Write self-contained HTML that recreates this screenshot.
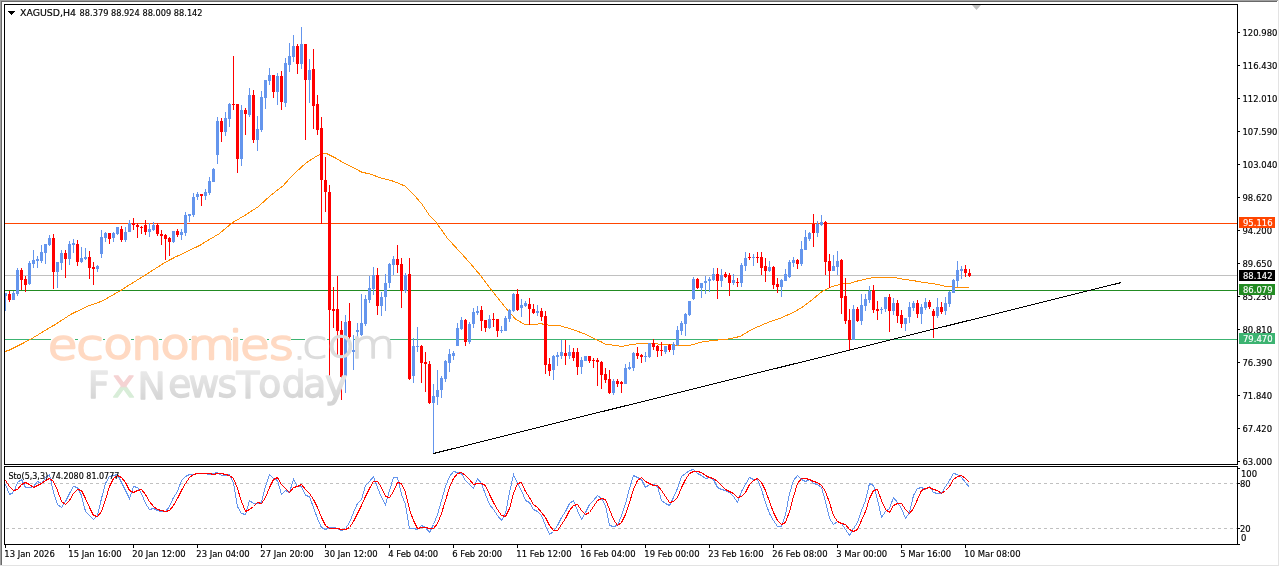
<!DOCTYPE html>
<html><head><meta charset="utf-8"><title>XAGUSD,H4</title>
<style>html,body{margin:0;padding:0;background:#fff;width:1280px;height:567px;overflow:hidden}</style>
</head><body>
<svg width="1280" height="567" viewBox="0 0 1280 567" style="position:absolute;left:0;top:0">
<g shape-rendering="crispEdges">
<rect x="0" y="0" width="1278" height="1" fill="#a0a0a0"/>
<rect x="0" y="0" width="1" height="565" fill="#a0a0a0"/>
<rect x="1" y="1" width="1276" height="1" fill="#696969"/>
<rect x="1" y="1" width="1" height="564" fill="#696969"/>
<rect x="1278" y="0" width="1" height="566" fill="#e3e3e3"/>
<rect x="0" y="565" width="1279" height="1" fill="#e3e3e3"/>
<rect x="4.5" y="4.5" width="1233" height="460" fill="none" stroke="#000" stroke-width="1"/>
<rect x="4.5" y="466.5" width="1233" height="78" fill="none" stroke="#000" stroke-width="1"/>
</g>
<defs><clipPath id="cm"><rect x="5" y="5" width="1232" height="459"/></clipPath><clipPath id="cs"><rect x="5" y="467" width="1232" height="77"/></clipPath></defs>
<g clip-path="url(#cm)" shape-rendering="crispEdges">
<rect x="5" y="223" width="1232" height="1" fill="#FF4500"/>
<rect x="5" y="275" width="1232" height="1" fill="#C0C0C0"/>
<rect x="5" y="290" width="1232" height="1" fill="#228B22"/>
<rect x="5" y="339" width="46" height="1" fill="#3CB371"/>
<rect x="75" y="339" width="3" height="1" fill="#3CB371"/>
<rect x="103" y="339" width="2" height="1" fill="#3CB371"/>
<rect x="131" y="339" width="3" height="1" fill="#3CB371"/>
<rect x="159" y="339" width="3" height="1" fill="#3CB371"/>
<rect x="189" y="339" width="2" height="1" fill="#3CB371"/>
<rect x="231" y="339" width="1" height="1" fill="#3CB371"/>
<rect x="240" y="339" width="3" height="1" fill="#3CB371"/>
<rect x="267" y="339" width="2" height="1" fill="#3CB371"/>
<rect x="291" y="339" width="14" height="1" fill="#3CB371"/>
<rect x="327" y="339" width="3" height="1" fill="#3CB371"/>
<rect x="353" y="339" width="2" height="1" fill="#3CB371"/>
<rect x="390" y="339" width="847" height="1" fill="#3CB371"/>
<polyline points="5.0,351.5 9.5,350.0 29.0,340.2 31.7,338.6 39.7,333.8 45.0,330.4 55.6,324.3 71.4,314.0 88.9,305.7 101.6,301.3 120.6,290.6 130.0,284.5 145.0,275.3 160.0,265.6 166.0,261.9 175.0,257.2 187.0,251.5 200.0,245.3 205.0,242.1 218.8,234.0 232.6,222.6 246.3,214.5 257.8,207.0 271.6,194.6 283.0,185.9 292.2,175.5 306.0,163.0 317.4,155.6 323.0,153.2 326.0,153.2 335.0,157.7 342.5,162.2 351.5,166.7 362.0,172.3 369.5,173.8 380.0,177.7 390.5,180.3 396.5,182.5 405.5,186.3 413.0,193.7 422.0,204.2 429.5,215.5 435.8,221.9 447.5,238.4 459.1,251.0 468.8,261.7 480.4,275.3 492.0,290.8 499.8,300.5 507.6,310.2 515.4,318.9 525.0,324.8 535.7,324.8 540.0,323.5 547.5,325.0 559.4,325.3 565.0,327.3 571.3,329.0 577.5,331.3 583.8,333.5 590.0,336.5 595.0,339.0 601.3,341.9 605.6,344.4 615.0,345.3 621.3,346.5 626.3,345.6 632.5,344.4 640.0,343.5 652.5,343.5 662.5,344.4 677.5,345.3 690.0,345.3 695.0,344.0 700.0,342.3 710.0,340.8 730.0,338.8 740.0,336.4 753.2,328.8 767.8,322.5 781.0,317.9 792.9,312.6 802.2,307.3 811.4,300.4 822.0,291.5 831.3,286.8 840.5,284.2 850.0,283.2 855.9,281.4 863.7,279.5 867.6,278.5 875.4,277.4 894.9,277.4 898.8,278.5 904.7,279.5 912.5,280.4 918.4,281.6 924.2,282.6 932.0,283.4 937.9,284.5 945.7,286.5 957.4,287.5 968.7,287.5" fill="none" stroke="#FF8C00" stroke-width="1"/>
<path d="M5,293h1v18h-1z M4,293h3v3h-3z M13,291h1v9h-1z M12,293h3v7h-3z M17,268h1v28h-1z M16,270h3v24h-3z M29,261h1v24h-1z M28,263h3v21h-3z M33,250h1v18h-1z M32,260h3v4h-3z M37,256h1v12h-1z M36,259h3v2h-3z M41,245h1v18h-1z M40,252h3v9h-3z M45,244h1v20h-1z M44,244h3v9h-3z M49,235h1v11h-1z M48,238h3v7h-3z M57,262h1v26h-1z M56,262h3v10h-3z M61,250h1v20h-1z M60,253h3v10h-3z M69,241h1v24h-1z M68,244h3v15h-3z M73,239h1v14h-1z M72,243h3v2h-3z M81,247h1v16h-1z M80,258h3v4h-3z M85,248h1v12h-1z M84,257h3v2h-3z M97,265h1v7h-1z M96,266h3v3h-3z M101,230h1v28h-1z M100,237h3v17h-3z M105,232h1v10h-1z M104,233h3v5h-3z M113,232h1v10h-1z M112,233h3v5h-3z M117,227h1v8h-1z M116,227h3v7h-3z M125,227h1v15h-1z M124,232h3v8h-3z M129,220h1v12h-1z M128,223h3v9h-3z M149,223h1v14h-1z M148,229h3v3h-3z M153,222h1v9h-1z M152,225h3v5h-3z M173,231h1v12h-1z M172,231h3v11h-3z M181,229h1v11h-1z M180,232h3v3h-3z M185,212h1v24h-1z M184,215h3v18h-3z M189,214h1v8h-1z M188,214h3v2h-3z M193,193h1v24h-1z M192,197h3v18h-3z M197,192h1v8h-1z M196,194h3v3h-3z M205,189h1v11h-1z M204,192h3v4h-3z M209,177h1v18h-1z M208,181h3v12h-3z M213,168h1v14h-1z M212,169h3v13h-3z M217,117h1v47h-1z M216,121h3v34h-3z M225,112h1v24h-1z M224,118h3v14h-3z M229,103h1v24h-1z M228,104h3v15h-3z M241,105h1v61h-1z M240,110h3v49h-3z M249,88h1v29h-1z M248,95h3v20h-3z M257,116h1v35h-1z M256,129h3v11h-3z M261,91h1v41h-1z M260,97h3v33h-3z M265,80h1v29h-1z M264,80h3v18h-3z M269,68h1v17h-1z M268,75h3v6h-3z M277,73h1v32h-1z M276,76h3v16h-3z M285,58h1v49h-1z M284,63h3v40h-3z M289,43h1v29h-1z M288,56h3v9h-3z M293,35h1v27h-1z M292,46h3v11h-3z M301,27h1v42h-1z M300,44h3v20h-3z M309,59h1v44h-1z M308,70h3v10h-3z M345,315h1v78h-1z M344,322h3v54h-3z M353,335h1v35h-1z M352,350h3v2h-3z M357,323h1v15h-1z M356,330h3v2h-3z M361,294h1v42h-1z M360,323h3v12h-3z M365,295h1v31h-1z M364,299h3v25h-3z M369,276h1v27h-1z M368,288h3v12h-3z M373,267h1v28h-1z M372,275h3v14h-3z M381,292h1v24h-1z M380,297h3v9h-3z M385,274h1v37h-1z M384,283h3v14h-3z M389,263h1v25h-1z M388,264h3v19h-3z M393,256h1v19h-1z M392,259h3v6h-3z M405,273h1v20h-1z M404,275h3v16h-3z M413,338h1v45h-1z M412,346h3v30h-3z M417,327h1v25h-1z M416,346h3v1h-3z M433,384h1v69h-1z M432,396h3v7h-3z M437,370h1v35h-1z M436,390h3v7h-3z M441,376h1v22h-1z M440,378h3v12h-3z M445,360h1v22h-1z M444,361h3v18h-3z M449,349h1v23h-1z M448,354h3v9h-3z M453,351h1v9h-1z M452,353h3v3h-3z M457,323h1v23h-1z M456,328h3v18h-3z M461,317h1v13h-1z M460,320h3v9h-3z M469,322h1v22h-1z M468,324h3v18h-3z M473,308h1v20h-1z M472,312h3v12h-3z M477,306h1v9h-1z M476,311h3v2h-3z M489,315h1v14h-1z M488,319h3v9h-3z M501,326h1v7h-1z M500,330h3v1h-3z M505,316h1v15h-1z M504,318h3v13h-3z M509,309h1v13h-1z M508,310h3v9h-3z M513,293h1v19h-1z M512,294h3v17h-3z M521,299h1v18h-1z M520,305h3v3h-3z M525,301h1v6h-1z M524,303h3v3h-3z M537,305h1v11h-1z M536,311h3v2h-3z M553,355h1v25h-1z M552,356h3v14h-3z M557,352h1v14h-1z M556,355h3v2h-3z M561,340h1v19h-1z M560,352h3v4h-3z M569,345h1v14h-1z M568,352h3v4h-3z M581,357h1v17h-1z M580,360h3v7h-3z M585,356h1v5h-1z M584,356h3v5h-3z M613,379h1v16h-1z M612,381h3v12h-3z M625,364h1v20h-1z M624,368h3v16h-3z M629,362h1v8h-1z M628,367h3v2h-3z M633,352h1v19h-1z M632,353h3v15h-3z M645,352h1v10h-1z M644,356h3v1h-3z M649,343h1v15h-1z M648,343h3v14h-3z M665,346h1v8h-1z M664,346h3v6h-3z M673,342h1v13h-1z M672,344h3v6h-3z M677,326h1v20h-1z M676,330h3v15h-3z M681,321h1v14h-1z M680,323h3v8h-3z M685,313h1v23h-1z M684,314h3v10h-3z M689,301h1v15h-1z M688,301h3v14h-3z M693,277h1v23h-1z M692,279h3v20h-3z M701,283h1v15h-1z M700,283h3v5h-3z M705,276h1v18h-1z M704,281h3v2h-3z M709,277h1v15h-1z M708,279h3v2h-3z M713,268h1v13h-1z M712,274h3v6h-3z M721,269h1v18h-1z M720,275h3v6h-3z M733,274h1v11h-1z M732,280h3v3h-3z M741,263h1v24h-1z M740,265h3v18h-3z M745,252h1v19h-1z M744,258h3v8h-3z M753,254h1v12h-1z M752,257h3v1h-3z M769,261h1v11h-1z M768,267h3v4h-3z M781,279h1v18h-1z M780,280h3v7h-3z M785,269h1v12h-1z M784,274h3v7h-3z M789,260h1v18h-1z M788,262h3v15h-3z M793,257h1v10h-1z M792,260h3v3h-3z M801,241h1v25h-1z M800,249h3v15h-3z M805,230h1v20h-1z M804,237h3v13h-3z M809,232h1v9h-1z M808,233h3v6h-3z M817,221h1v16h-1z M816,224h3v9h-3z M821,215h1v11h-1z M820,222h3v3h-3z M833,255h1v16h-1z M832,266h3v5h-3z M837,251h1v24h-1z M836,261h3v6h-3z M853,305h1v35h-1z M852,309h3v31h-3z M861,294h1v31h-1z M860,305h3v16h-3z M865,294h1v17h-1z M864,299h3v7h-3z M869,286h1v17h-1z M868,291h3v9h-3z M881,307h1v7h-1z M880,309h3v1h-3z M885,297h1v15h-1z M884,297h3v12h-3z M893,298h1v17h-1z M892,303h3v8h-3z M905,318h1v13h-1z M904,318h3v6h-3z M909,302h1v21h-1z M908,307h3v10h-3z M913,301h1v10h-1z M912,303h3v5h-3z M921,304h1v20h-1z M920,307h3v7h-3z M925,298h1v12h-1z M924,302h3v6h-3z M937,298h1v20h-1z M936,307h3v9h-3z M945,297h1v18h-1z M944,303h3v8h-3z M949,291h1v16h-1z M948,292h3v12h-3z M953,279h1v14h-1z M952,280h3v13h-3z M957,261h1v26h-1z M956,270h3v11h-3z M961,266h1v13h-1z M960,269h3v2h-3z" fill="#6495ED"/>
<path d="M9,291h1v11h-1z M8,294h3v6h-3z M21,268h1v22h-1z M20,270h3v10h-3z M25,276h1v16h-1z M24,279h3v6h-3z M53,234h1v55h-1z M52,238h3v34h-3z M65,250h1v28h-1z M64,253h3v6h-3z M77,240h1v26h-1z M76,244h3v18h-3z M89,251h1v28h-1z M88,257h3v11h-3z M93,262h1v23h-1z M92,267h3v2h-3z M109,233h1v11h-1z M108,233h3v6h-3z M121,226h1v16h-1z M120,229h3v11h-3z M133,218h1v12h-1z M132,223h3v2h-3z M137,223h1v15h-1z M136,225h3v2h-3z M141,226h1v8h-1z M140,227h3v1h-3z M145,220h1v15h-1z M144,225h3v7h-3z M157,223h1v13h-1z M156,225h3v9h-3z M161,230h1v15h-1z M160,234h3v2h-3z M165,234h1v26h-1z M164,235h3v4h-3z M169,237h1v19h-1z M168,238h3v4h-3z M177,229h1v8h-1z M176,231h3v4h-3z M201,194h1v12h-1z M200,194h3v2h-3z M221,118h1v24h-1z M220,121h3v11h-3z M233,56h1v54h-1z M232,104h3v1h-3z M237,104h1v69h-1z M236,104h3v55h-3z M245,108h1v27h-1z M244,110h3v4h-3z M253,90h1v53h-1z M252,95h3v45h-3z M273,75h1v23h-1z M272,75h3v17h-3z M281,71h1v39h-1z M280,76h3v26h-3z M297,44h1v30h-1z M296,46h3v18h-3z M305,44h1v96h-1z M304,44h3v36h-3z M313,49h1v80h-1z M312,69h3v37h-3z M317,95h1v40h-1z M316,104h3v26h-3z M321,117h1v107h-1z M320,128h3v52h-3z M325,157h1v55h-1z M324,180h3v12h-3z M329,185h1v191h-1z M328,192h3v118h-3z M333,287h1v41h-1z M332,309h3v2h-3z M337,276h1v79h-1z M336,309h3v22h-3z M341,321h1v79h-1z M340,330h3v47h-3z M349,303h1v46h-1z M348,321h3v16h-3z M377,268h1v47h-1z M376,275h3v31h-3z M397,245h1v28h-1z M396,259h3v6h-3z M401,258h1v50h-1z M400,264h3v27h-3z M409,258h1v122h-1z M408,274h3v105h-3z M421,345h1v38h-1z M420,346h3v17h-3z M425,352h1v40h-1z M424,362h3v2h-3z M429,361h1v43h-1z M428,364h3v39h-3z M465,319h1v27h-1z M464,320h3v22h-3z M481,306h1v25h-1z M480,310h3v11h-3z M485,320h1v12h-1z M484,320h3v8h-3z M493,313h1v14h-1z M492,319h3v1h-3z M497,319h1v18h-1z M496,319h3v12h-3z M517,289h1v22h-1z M516,294h3v16h-3z M529,298h1v27h-1z M528,304h3v5h-3z M533,304h1v10h-1z M532,309h3v4h-3z M541,308h1v13h-1z M540,311h3v6h-3z M545,311h1v63h-1z M544,316h3v49h-3z M549,358h1v18h-1z M548,364h3v7h-3z M565,340h1v25h-1z M564,353h3v3h-3z M573,348h1v13h-1z M572,352h3v6h-3z M577,348h1v27h-1z M576,352h3v15h-3z M589,356h1v7h-1z M588,356h3v5h-3z M593,358h1v10h-1z M592,360h3v1h-3z M597,358h1v28h-1z M596,360h3v2h-3z M601,361h1v28h-1z M600,362h3v13h-3z M605,368h1v15h-1z M604,374h3v6h-3z M609,370h1v24h-1z M608,379h3v14h-3z M617,379h1v8h-1z M616,381h3v3h-3z M621,381h1v12h-1z M620,382h3v2h-3z M637,347h1v12h-1z M636,353h3v3h-3z M641,354h1v9h-1z M640,355h3v2h-3z M653,339h1v11h-1z M652,343h3v4h-3z M657,345h1v12h-1z M656,346h3v5h-3z M661,342h1v14h-1z M660,350h3v1h-3z M669,344h1v8h-1z M668,345h3v5h-3z M697,278h1v11h-1z M696,279h3v9h-3z M717,268h1v31h-1z M716,274h3v7h-3z M725,272h1v6h-1z M724,274h3v3h-3z M729,273h1v23h-1z M728,275h3v8h-3z M737,278h1v9h-1z M736,282h3v1h-3z M749,253h1v7h-1z M748,257h3v1h-3z M757,252h1v11h-1z M756,257h3v1h-3z M761,252h1v23h-1z M760,257h3v11h-3z M765,258h1v24h-1z M764,266h3v5h-3z M773,266h1v23h-1z M772,267h3v18h-3z M777,278h1v15h-1z M776,284h3v3h-3z M797,259h1v10h-1z M796,260h3v4h-3z M813,214h1v33h-1z M812,224h3v9h-3z M825,221h1v54h-1z M824,222h3v40h-3z M829,254h1v34h-1z M828,261h3v10h-3z M841,259h1v55h-1z M840,260h3v38h-3z M845,278h1v46h-1z M844,296h3v25h-3z M849,309h1v41h-1z M848,320h3v20h-3z M857,307h1v15h-1z M856,309h3v12h-3z M873,285h1v28h-1z M872,290h3v20h-3z M877,301h1v19h-1z M876,309h3v2h-3z M889,294h1v38h-1z M888,297h3v14h-3z M897,300h1v23h-1z M896,303h3v13h-3z M901,310h1v18h-1z M900,315h3v9h-3z M917,300h1v18h-1z M916,303h3v11h-3z M929,300h1v9h-1z M928,302h3v5h-3z M933,309h1v29h-1z M932,311h3v5h-3z M941,302h1v12h-1z M940,307h3v5h-3z M965,265h1v12h-1z M964,269h3v4h-3z M969,269h1v8h-1z M968,273h3v3h-3z" fill="#FF0000"/>
<line x1="433.5" y1="453.5" x2="1121.5" y2="282.5" stroke="#000" stroke-width="1"/>
</g>
<g>
<text transform="matrix(0.12123 0 0 0.10147 0 358.836)" font-family="DejaVu Sans, sans-serif" font-weight="200" font-size="400px" fill="#FFD9C2" stroke="#FFD9C2" stroke-width="25.15" stroke-linejoin="round" x="393.01 631.93 852.46 1082.76 1322.62 1548.52 1890.00 1980.03 2216.78" y="-0.86 -0.86 -3.99 2.26 -3.99 2.26 6.92 -0.86 -0.86">economies</text>
<text transform="matrix(0.11431 0 0 0.09517 0 357.879)" font-family="DejaVu Sans, sans-serif" font-weight="200" font-size="400px" fill="#DCDCDC" stroke="#DCDCDC" stroke-width="14.32" stroke-linejoin="round" x="2557.65 2643.25 2861.27 3068.91" y="8.52 -2.84 -5.96 0.29">.com</text>
<defs><linearGradient id="fxg" gradientUnits="userSpaceOnUse" x1="0" y1="97.8" x2="0" y2="445.6"><stop offset="0" stop-color="#EAEAEA"/><stop offset="1" stop-color="#D4D4D4"/></linearGradient><pattern id="fxp" patternUnits="userSpaceOnUse" x="850.9" y="-407.2" width="2978.1" height="543.4"><rect x="0" y="0" width="2978.1" height="543.4" fill="url(#fxg)"/><rect x="324.4" y="0" width="271.2" height="295.6" fill="#F5D3D3"/><rect x="324.4" y="295.6" width="271.2" height="247.8" fill="#D8EDD8"/></pattern></defs>
<text transform="matrix(0.09402 0 0 0.09202 0 397.466)" font-family="DejaVu Sans, sans-serif" font-weight="400" font-size="400px" fill="url(#fxp)" stroke="url(#fxp)" stroke-width="13.98" stroke-linejoin="round" x="933.27 1195.25 1463.47 1790.99 2006.16 2312.36 2516.36 2745.57 2996.51 3226.18 3456.45" y="9.77 -4.36 13.58 -2.73 -2.73 -2.73 9.77 -5.99 -7.21 -4.36 -3.01">FxNewsToday</text>
</g>
<path d="M8,11h7v1h-1v1h-1v1h-1v1h-1v-1h-1v-1h-1v-1h-1z" fill="#000" shape-rendering="crispEdges"/>
<text x="20" y="16" font-family="DejaVu Sans, Liberation Sans, sans-serif" font-stretch="condensed" stroke="currentColor" stroke-width="0.15" font-size="9.4px" fill="#000" color="#000" textLength="56" lengthAdjust="spacingAndGlyphs">XAGUSD,H4</text>
<text x="79.6" y="16" font-family="DejaVu Sans, Liberation Sans, sans-serif" font-stretch="condensed" stroke="currentColor" stroke-width="0.15" font-size="9.4px" fill="#000" color="#000" textLength="123" lengthAdjust="spacingAndGlyphs">88.379 88.924 88.009 88.142</text>
<path d="M972,5h9l-4.5,5z" fill="#C0C0C0"/>
<g shape-rendering="crispEdges">
<rect x="1238" y="32" width="2" height="1" fill="#000"/>
<rect x="1238" y="65" width="2" height="1" fill="#000"/>
<rect x="1238" y="98" width="2" height="1" fill="#000"/>
<rect x="1238" y="131" width="2" height="1" fill="#000"/>
<rect x="1238" y="164" width="2" height="1" fill="#000"/>
<rect x="1238" y="197" width="2" height="1" fill="#000"/>
<rect x="1238" y="230" width="2" height="1" fill="#000"/>
<rect x="1238" y="263" width="2" height="1" fill="#000"/>
<rect x="1238" y="296" width="2" height="1" fill="#000"/>
<rect x="1238" y="329" width="2" height="1" fill="#000"/>
<rect x="1238" y="362" width="2" height="1" fill="#000"/>
<rect x="1238" y="395" width="2" height="1" fill="#000"/>
<rect x="1238" y="428" width="2" height="1" fill="#000"/>
<rect x="1238" y="461" width="2" height="1" fill="#000"/>
</g>
<text x="1242.5" y="36" font-family="DejaVu Sans, Liberation Sans, sans-serif" font-stretch="condensed" stroke="currentColor" stroke-width="0.15" font-size="9.4px" fill="#000" color="#000">120.980</text>
<text x="1242.5" y="69" font-family="DejaVu Sans, Liberation Sans, sans-serif" font-stretch="condensed" stroke="currentColor" stroke-width="0.15" font-size="9.4px" fill="#000" color="#000">116.430</text>
<text x="1242.5" y="102" font-family="DejaVu Sans, Liberation Sans, sans-serif" font-stretch="condensed" stroke="currentColor" stroke-width="0.15" font-size="9.4px" fill="#000" color="#000">112.010</text>
<text x="1242.5" y="135" font-family="DejaVu Sans, Liberation Sans, sans-serif" font-stretch="condensed" stroke="currentColor" stroke-width="0.15" font-size="9.4px" fill="#000" color="#000">107.590</text>
<text x="1242.5" y="168" font-family="DejaVu Sans, Liberation Sans, sans-serif" font-stretch="condensed" stroke="currentColor" stroke-width="0.15" font-size="9.4px" fill="#000" color="#000">103.040</text>
<text x="1242.5" y="201" font-family="DejaVu Sans, Liberation Sans, sans-serif" font-stretch="condensed" stroke="currentColor" stroke-width="0.15" font-size="9.4px" fill="#000" color="#000">98.620</text>
<text x="1242.5" y="234" font-family="DejaVu Sans, Liberation Sans, sans-serif" font-stretch="condensed" stroke="currentColor" stroke-width="0.15" font-size="9.4px" fill="#000" color="#000">94.200</text>
<text x="1242.5" y="267" font-family="DejaVu Sans, Liberation Sans, sans-serif" font-stretch="condensed" stroke="currentColor" stroke-width="0.15" font-size="9.4px" fill="#000" color="#000">89.650</text>
<text x="1242.5" y="300" font-family="DejaVu Sans, Liberation Sans, sans-serif" font-stretch="condensed" stroke="currentColor" stroke-width="0.15" font-size="9.4px" fill="#000" color="#000">85.230</text>
<text x="1242.5" y="333" font-family="DejaVu Sans, Liberation Sans, sans-serif" font-stretch="condensed" stroke="currentColor" stroke-width="0.15" font-size="9.4px" fill="#000" color="#000">80.810</text>
<text x="1242.5" y="366" font-family="DejaVu Sans, Liberation Sans, sans-serif" font-stretch="condensed" stroke="currentColor" stroke-width="0.15" font-size="9.4px" fill="#000" color="#000">76.390</text>
<text x="1242.5" y="399" font-family="DejaVu Sans, Liberation Sans, sans-serif" font-stretch="condensed" stroke="currentColor" stroke-width="0.15" font-size="9.4px" fill="#000" color="#000">71.840</text>
<text x="1242.5" y="432" font-family="DejaVu Sans, Liberation Sans, sans-serif" font-stretch="condensed" stroke="currentColor" stroke-width="0.15" font-size="9.4px" fill="#000" color="#000">67.420</text>
<text x="1242.5" y="465" font-family="DejaVu Sans, Liberation Sans, sans-serif" font-stretch="condensed" stroke="currentColor" stroke-width="0.15" font-size="9.4px" fill="#000" color="#000">63.000</text>
<rect x="1239" y="217" width="36" height="11" fill="#FF4500" shape-rendering="crispEdges"/>
<text x="1243" y="226" font-family="DejaVu Sans, Liberation Sans, sans-serif" font-stretch="condensed" stroke="currentColor" stroke-width="0.15" font-size="9.4px" fill="#fff" color="#fff">95.116</text>
<rect x="1239" y="270" width="36" height="11" fill="#000000" shape-rendering="crispEdges"/>
<text x="1243" y="279" font-family="DejaVu Sans, Liberation Sans, sans-serif" font-stretch="condensed" stroke="currentColor" stroke-width="0.15" font-size="9.4px" fill="#fff" color="#fff">88.142</text>
<rect x="1239" y="284" width="36" height="11" fill="#228B22" shape-rendering="crispEdges"/>
<text x="1243" y="293" font-family="DejaVu Sans, Liberation Sans, sans-serif" font-stretch="condensed" stroke="currentColor" stroke-width="0.15" font-size="9.4px" fill="#fff" color="#fff">86.079</text>
<rect x="1239" y="333" width="36" height="11" fill="#3CB371" shape-rendering="crispEdges"/>
<text x="1243" y="342" font-family="DejaVu Sans, Liberation Sans, sans-serif" font-stretch="condensed" stroke="currentColor" stroke-width="0.15" font-size="9.4px" fill="#fff" color="#fff">79.470</text>
<g clip-path="url(#cs)">
<line x1="0" y1="483.5" x2="1237" y2="483.5" stroke="#C0C0C0" stroke-dasharray="3,3" shape-rendering="crispEdges"/>
<line x1="0" y1="528.5" x2="1237" y2="528.5" stroke="#C0C0C0" stroke-dasharray="3,3" shape-rendering="crispEdges"/>
<polyline points="5.5,484.5 9.5,494.5 13.5,492.5 17.5,482.5 21.5,479.5 25.5,487.5 29.5,487.5 33.5,486.5 37.5,481.5 41.5,483.5 45.5,477.5 49.5,474.5 53.5,492.5 57.5,504.5 61.5,507.5 65.5,501.5 69.5,493.5 73.5,486.5 77.5,487.5 81.5,495.5 85.5,511.5 89.5,515.5 93.5,519.5 97.5,515.5 101.5,498.5 105.5,483.5 109.5,476.5 113.5,475.5 117.5,474.5 121.5,482.5 125.5,490.5 129.5,498.5 133.5,486.5 137.5,487.5 141.5,493.5 145.5,503.5 149.5,509.5 153.5,508.5 157.5,510.5 161.5,511.5 165.5,511.5 169.5,506.5 173.5,497.5 177.5,491.5 181.5,480.5 185.5,476.5 189.5,474.5 193.5,474.5 197.5,473.5 201.5,473.5 205.5,473.5 209.5,474.5 213.5,473.5 217.5,472.5 221.5,475.5 225.5,475.5 229.5,474.5 233.5,483.5 237.5,506.5 241.5,513.5 245.5,514.5 249.5,500.5 253.5,503.5 257.5,503.5 261.5,502.5 265.5,486.5 269.5,474.5 273.5,478.5 277.5,480.5 281.5,494.5 285.5,490.5 289.5,492.5 293.5,479.5 297.5,486.5 301.5,486.5 305.5,495.5 309.5,496.5 313.5,507.5 317.5,518.5 321.5,527.5 325.5,529.5 329.5,527.5 333.5,527.5 337.5,528.5 341.5,530.5 345.5,528.5 349.5,522.5 353.5,512.5 357.5,503.5 361.5,499.5 365.5,485.5 369.5,481.5 373.5,476.5 377.5,487.5 381.5,497.5 385.5,504.5 389.5,490.5 393.5,477.5 397.5,477.5 401.5,494.5 405.5,504.5 409.5,528.5 413.5,528.5 417.5,529.5 421.5,525.5 425.5,527.5 429.5,532.5 433.5,524.5 437.5,514.5 441.5,500.5 445.5,486.5 449.5,476.5 453.5,471.5 457.5,472.5 461.5,473.5 465.5,480.5 469.5,484.5 473.5,488.5 477.5,478.5 481.5,483.5 485.5,494.5 489.5,504.5 493.5,509.5 497.5,515.5 501.5,520.5 505.5,513.5 509.5,492.5 513.5,474.5 517.5,483.5 521.5,490.5 525.5,500.5 529.5,502.5 533.5,509.5 537.5,511.5 541.5,515.5 545.5,525.5 549.5,534.5 553.5,531.5 557.5,525.5 561.5,517.5 565.5,511.5 569.5,503.5 573.5,500.5 577.5,510.5 581.5,519.5 585.5,512.5 589.5,504.5 593.5,500.5 597.5,495.5 601.5,498.5 605.5,505.5 609.5,525.5 613.5,526.5 617.5,525.5 621.5,515.5 625.5,503.5 629.5,488.5 633.5,475.5 637.5,477.5 641.5,479.5 645.5,487.5 649.5,484.5 653.5,484.5 657.5,486.5 661.5,500.5 665.5,503.5 669.5,505.5 673.5,497.5 677.5,488.5 681.5,476.5 685.5,473.5 689.5,470.5 693.5,469.5 697.5,473.5 701.5,475.5 705.5,478.5 709.5,477.5 713.5,479.5 717.5,487.5 721.5,489.5 725.5,490.5 729.5,492.5 733.5,496.5 737.5,502.5 741.5,491.5 745.5,484.5 749.5,477.5 753.5,479.5 757.5,479.5 761.5,489.5 765.5,502.5 769.5,513.5 773.5,520.5 777.5,526.5 781.5,526.5 785.5,514.5 789.5,493.5 793.5,480.5 797.5,475.5 801.5,479.5 805.5,481.5 809.5,479.5 813.5,483.5 817.5,484.5 821.5,487.5 825.5,501.5 829.5,518.5 833.5,524.5 837.5,521.5 841.5,523.5 845.5,529.5 849.5,535.5 853.5,528.5 857.5,522.5 861.5,510.5 865.5,500.5 869.5,483.5 873.5,485.5 877.5,499.5 881.5,517.5 885.5,511.5 889.5,508.5 893.5,497.5 897.5,502.5 901.5,508.5 905.5,518.5 909.5,512.5 913.5,495.5 917.5,488.5 921.5,487.5 925.5,489.5 929.5,486.5 933.5,492.5 937.5,493.5 941.5,493.5 945.5,486.5 949.5,480.5 953.5,473.5 957.5,474.5 961.5,477.5 965.5,482.5 969.5,487.5" fill="none" stroke="#6495ED" stroke-width="1" shape-rendering="crispEdges"/>
<polyline points="5.5,480.5 9.5,486.5 13.5,490.5 17.5,489.5 21.5,484.5 25.5,482.5 29.5,484.5 33.5,487.5 37.5,485.5 41.5,483.5 45.5,480.5 49.5,478.5 53.5,481.5 57.5,490.5 61.5,501.5 65.5,504.5 69.5,500.5 73.5,493.5 77.5,489.5 81.5,490.5 85.5,498.5 89.5,507.5 93.5,515.5 97.5,516.5 101.5,511.5 105.5,499.5 109.5,486.5 113.5,478.5 117.5,475.5 121.5,477.5 125.5,482.5 129.5,490.5 133.5,492.5 137.5,490.5 141.5,489.5 145.5,494.5 149.5,501.5 153.5,506.5 157.5,509.5 161.5,510.5 165.5,511.5 169.5,510.5 173.5,505.5 177.5,498.5 181.5,490.5 185.5,483.5 189.5,477.5 193.5,474.5 197.5,473.5 201.5,473.5 205.5,473.5 209.5,473.5 213.5,474.5 217.5,473.5 221.5,473.5 225.5,474.5 229.5,475.5 233.5,478.5 237.5,488.5 241.5,501.5 245.5,511.5 249.5,509.5 253.5,506.5 257.5,502.5 261.5,503.5 265.5,497.5 269.5,487.5 273.5,479.5 277.5,477.5 281.5,484.5 285.5,488.5 289.5,492.5 293.5,487.5 297.5,486.5 301.5,484.5 305.5,489.5 309.5,493.5 313.5,499.5 317.5,507.5 321.5,517.5 325.5,525.5 329.5,528.5 333.5,528.5 337.5,528.5 341.5,529.5 345.5,529.5 349.5,527.5 353.5,521.5 357.5,513.5 361.5,505.5 365.5,496.5 369.5,488.5 373.5,481.5 377.5,481.5 381.5,487.5 385.5,496.5 389.5,497.5 393.5,491.5 397.5,482.5 401.5,483.5 405.5,492.5 409.5,509.5 413.5,520.5 417.5,528.5 421.5,527.5 425.5,527.5 429.5,528.5 433.5,528.5 437.5,523.5 441.5,513.5 445.5,500.5 449.5,487.5 453.5,478.5 457.5,473.5 461.5,472.5 465.5,475.5 469.5,479.5 473.5,484.5 477.5,483.5 481.5,483.5 485.5,485.5 489.5,494.5 493.5,502.5 497.5,509.5 501.5,515.5 505.5,516.5 509.5,508.5 513.5,493.5 517.5,483.5 521.5,482.5 525.5,491.5 529.5,497.5 533.5,504.5 537.5,507.5 541.5,512.5 545.5,517.5 549.5,525.5 553.5,530.5 557.5,530.5 561.5,524.5 565.5,518.5 569.5,510.5 573.5,505.5 577.5,504.5 581.5,510.5 585.5,514.5 589.5,512.5 593.5,506.5 597.5,500.5 601.5,498.5 605.5,499.5 609.5,509.5 613.5,519.5 617.5,525.5 621.5,522.5 625.5,514.5 629.5,502.5 633.5,489.5 637.5,480.5 641.5,477.5 645.5,481.5 649.5,483.5 653.5,485.5 657.5,485.5 661.5,490.5 665.5,496.5 669.5,502.5 673.5,501.5 677.5,497.5 681.5,487.5 685.5,479.5 689.5,473.5 693.5,471.5 697.5,471.5 701.5,472.5 705.5,475.5 709.5,477.5 713.5,478.5 717.5,481.5 721.5,485.5 725.5,489.5 729.5,491.5 733.5,493.5 737.5,497.5 741.5,496.5 745.5,492.5 749.5,484.5 753.5,480.5 757.5,478.5 761.5,482.5 765.5,490.5 769.5,501.5 773.5,512.5 777.5,520.5 781.5,524.5 785.5,522.5 789.5,511.5 793.5,496.5 797.5,483.5 801.5,478.5 805.5,478.5 809.5,479.5 813.5,481.5 817.5,482.5 821.5,485.5 825.5,491.5 829.5,502.5 833.5,515.5 837.5,521.5 841.5,523.5 845.5,524.5 849.5,529.5 853.5,531.5 857.5,529.5 861.5,520.5 865.5,511.5 869.5,498.5 873.5,490.5 877.5,489.5 881.5,500.5 885.5,509.5 889.5,512.5 893.5,505.5 897.5,503.5 901.5,503.5 905.5,509.5 909.5,513.5 913.5,508.5 917.5,499.5 921.5,490.5 925.5,488.5 929.5,487.5 933.5,489.5 937.5,490.5 941.5,493.5 945.5,490.5 949.5,486.5 953.5,479.5 957.5,476.5 961.5,475.5 965.5,478.5 969.5,482.5" fill="none" stroke="#FF0000" stroke-width="1" shape-rendering="crispEdges"/>
</g>
<text x="8.4" y="479" font-family="DejaVu Sans, Liberation Sans, sans-serif" font-stretch="condensed" stroke="currentColor" stroke-width="0.15" font-size="9.4px" fill="#000" color="#000" textLength="111" lengthAdjust="spacingAndGlyphs">Sto(5,3,3) 74.2080 81.0777</text>
<g shape-rendering="crispEdges">
<rect x="1238" y="468" width="2" height="1" fill="#000"/>
<rect x="1238" y="483" width="2" height="1" fill="#000"/>
<rect x="1238" y="528" width="2" height="1" fill="#000"/>
<rect x="1238" y="544" width="2" height="1" fill="#000"/>
</g>
<text x="1241" y="477" font-family="DejaVu Sans, Liberation Sans, sans-serif" font-stretch="condensed" stroke="currentColor" stroke-width="0.15" font-size="9.4px" fill="#000" color="#000">100</text>
<text x="1240" y="487" font-family="DejaVu Sans, Liberation Sans, sans-serif" font-stretch="condensed" stroke="currentColor" stroke-width="0.15" font-size="9.4px" fill="#000" color="#000">80</text>
<text x="1240" y="532" font-family="DejaVu Sans, Liberation Sans, sans-serif" font-stretch="condensed" stroke="currentColor" stroke-width="0.15" font-size="9.4px" fill="#000" color="#000">20</text>
<text x="1241" y="541" font-family="DejaVu Sans, Liberation Sans, sans-serif" font-stretch="condensed" stroke="currentColor" stroke-width="0.15" font-size="9.4px" fill="#000" color="#000">0</text>
<g shape-rendering="crispEdges">
<rect x="5" y="545" width="1" height="3" fill="#000"/>
<rect x="69" y="545" width="1" height="3" fill="#000"/>
<rect x="133" y="545" width="1" height="3" fill="#000"/>
<rect x="197" y="545" width="1" height="3" fill="#000"/>
<rect x="261" y="545" width="1" height="3" fill="#000"/>
<rect x="325" y="545" width="1" height="3" fill="#000"/>
<rect x="389" y="545" width="1" height="3" fill="#000"/>
<rect x="453" y="545" width="1" height="3" fill="#000"/>
<rect x="517" y="545" width="1" height="3" fill="#000"/>
<rect x="581" y="545" width="1" height="3" fill="#000"/>
<rect x="645" y="545" width="1" height="3" fill="#000"/>
<rect x="709" y="545" width="1" height="3" fill="#000"/>
<rect x="773" y="545" width="1" height="3" fill="#000"/>
<rect x="837" y="545" width="1" height="3" fill="#000"/>
<rect x="901" y="545" width="1" height="3" fill="#000"/>
<rect x="965" y="545" width="1" height="3" fill="#000"/>
</g>
<text x="4.3" y="557" font-family="DejaVu Sans, Liberation Sans, sans-serif" font-stretch="condensed" stroke="currentColor" stroke-width="0.15" font-size="9.4px" fill="#000" color="#000">13 Jan 2026</text>
<text x="68.3" y="557" font-family="DejaVu Sans, Liberation Sans, sans-serif" font-stretch="condensed" stroke="currentColor" stroke-width="0.15" font-size="9.4px" fill="#000" color="#000">15 Jan 16:00</text>
<text x="132.3" y="557" font-family="DejaVu Sans, Liberation Sans, sans-serif" font-stretch="condensed" stroke="currentColor" stroke-width="0.15" font-size="9.4px" fill="#000" color="#000">20 Jan 12:00</text>
<text x="196.3" y="557" font-family="DejaVu Sans, Liberation Sans, sans-serif" font-stretch="condensed" stroke="currentColor" stroke-width="0.15" font-size="9.4px" fill="#000" color="#000">23 Jan 04:00</text>
<text x="260.3" y="557" font-family="DejaVu Sans, Liberation Sans, sans-serif" font-stretch="condensed" stroke="currentColor" stroke-width="0.15" font-size="9.4px" fill="#000" color="#000">27 Jan 20:00</text>
<text x="324.3" y="557" font-family="DejaVu Sans, Liberation Sans, sans-serif" font-stretch="condensed" stroke="currentColor" stroke-width="0.15" font-size="9.4px" fill="#000" color="#000">30 Jan 12:00</text>
<text x="388.3" y="557" font-family="DejaVu Sans, Liberation Sans, sans-serif" font-stretch="condensed" stroke="currentColor" stroke-width="0.15" font-size="9.4px" fill="#000" color="#000">4 Feb 04:00</text>
<text x="452.3" y="557" font-family="DejaVu Sans, Liberation Sans, sans-serif" font-stretch="condensed" stroke="currentColor" stroke-width="0.15" font-size="9.4px" fill="#000" color="#000">6 Feb 20:00</text>
<text x="516.3" y="557" font-family="DejaVu Sans, Liberation Sans, sans-serif" font-stretch="condensed" stroke="currentColor" stroke-width="0.15" font-size="9.4px" fill="#000" color="#000">11 Feb 12:00</text>
<text x="580.3" y="557" font-family="DejaVu Sans, Liberation Sans, sans-serif" font-stretch="condensed" stroke="currentColor" stroke-width="0.15" font-size="9.4px" fill="#000" color="#000">16 Feb 04:00</text>
<text x="644.3" y="557" font-family="DejaVu Sans, Liberation Sans, sans-serif" font-stretch="condensed" stroke="currentColor" stroke-width="0.15" font-size="9.4px" fill="#000" color="#000">19 Feb 00:00</text>
<text x="708.3" y="557" font-family="DejaVu Sans, Liberation Sans, sans-serif" font-stretch="condensed" stroke="currentColor" stroke-width="0.15" font-size="9.4px" fill="#000" color="#000">23 Feb 16:00</text>
<text x="772.3" y="557" font-family="DejaVu Sans, Liberation Sans, sans-serif" font-stretch="condensed" stroke="currentColor" stroke-width="0.15" font-size="9.4px" fill="#000" color="#000">26 Feb 08:00</text>
<text x="836.3" y="557" font-family="DejaVu Sans, Liberation Sans, sans-serif" font-stretch="condensed" stroke="currentColor" stroke-width="0.15" font-size="9.4px" fill="#000" color="#000">3 Mar 00:00</text>
<text x="900.3" y="557" font-family="DejaVu Sans, Liberation Sans, sans-serif" font-stretch="condensed" stroke="currentColor" stroke-width="0.15" font-size="9.4px" fill="#000" color="#000">5 Mar 16:00</text>
<text x="964.3" y="557" font-family="DejaVu Sans, Liberation Sans, sans-serif" font-stretch="condensed" stroke="currentColor" stroke-width="0.15" font-size="9.4px" fill="#000" color="#000">10 Mar 08:00</text>
</svg>
</body></html>
